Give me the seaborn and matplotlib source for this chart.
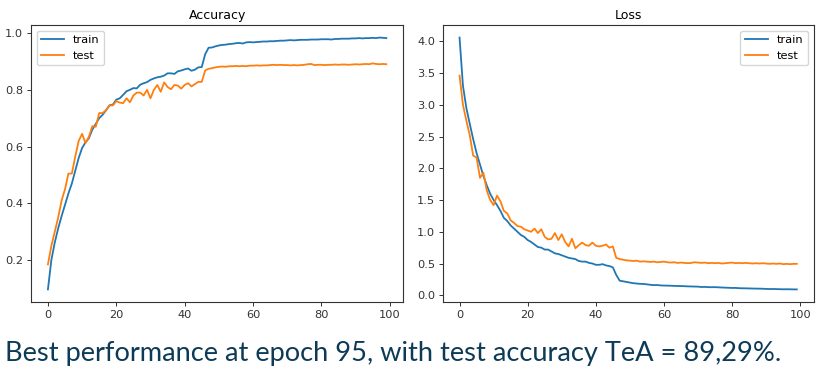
import numpy as np
import pandas as pd
import matplotlib
matplotlib.use("Agg")
import matplotlib.pyplot as plt
import seaborn as sns

epochs = list(range(100))

train_acc = [0.097, 0.200, 0.262, 0.312, 0.355, 0.395, 0.435, 0.470, 0.515, 0.560,
             0.595, 0.615, 0.630, 0.660, 0.680, 0.700, 0.712, 0.728, 0.745, 0.748,
             0.765, 0.770, 0.782, 0.795, 0.800, 0.806, 0.805, 0.818, 0.823, 0.827,
             0.835, 0.840, 0.844, 0.846, 0.850, 0.858, 0.858, 0.856, 0.865, 0.868,
             0.872, 0.875, 0.867, 0.871, 0.879, 0.880, 0.925, 0.948, 0.949, 0.953,
             0.956, 0.958, 0.959, 0.961, 0.962, 0.964, 0.965, 0.963, 0.967, 0.968,
             0.967, 0.968, 0.969, 0.970, 0.970, 0.971, 0.971, 0.972, 0.973, 0.973,
             0.974, 0.975, 0.974, 0.975, 0.976, 0.976, 0.976, 0.977, 0.977, 0.977,
             0.978, 0.978, 0.978, 0.977, 0.979, 0.979, 0.980, 0.980, 0.980, 0.981,
             0.981, 0.982, 0.981, 0.982, 0.982, 0.983, 0.982, 0.984, 0.983, 0.982]

test_acc = [0.185, 0.250, 0.300, 0.350, 0.410, 0.450, 0.505, 0.505, 0.565, 0.620,
            0.645, 0.612, 0.635, 0.672, 0.670, 0.718, 0.718, 0.728, 0.745, 0.745,
            0.760, 0.755, 0.753, 0.770, 0.756, 0.780, 0.790, 0.790, 0.780, 0.800,
            0.770, 0.800, 0.817, 0.793, 0.826, 0.810, 0.802, 0.817, 0.815, 0.804,
            0.817, 0.823, 0.812, 0.820, 0.828, 0.828, 0.868, 0.874, 0.876, 0.879,
            0.881, 0.882, 0.881, 0.883, 0.883, 0.884, 0.883, 0.884, 0.883, 0.885,
            0.885, 0.886, 0.885, 0.886, 0.886, 0.887, 0.888, 0.887, 0.888, 0.887,
            0.887, 0.886, 0.887, 0.886, 0.887, 0.888, 0.890, 0.891, 0.887, 0.888,
            0.888, 0.887, 0.888, 0.888, 0.889, 0.888, 0.889, 0.889, 0.888, 0.889,
            0.890, 0.889, 0.890, 0.891, 0.890, 0.893, 0.891, 0.890, 0.891, 0.890]

train_loss = [4.06, 3.30, 2.95, 2.70, 2.46, 2.24, 2.06, 1.88, 1.73, 1.60,
              1.50, 1.42, 1.33, 1.22, 1.17, 1.10, 1.05, 1.00, 0.95, 0.92,
              0.87, 0.84, 0.80, 0.76, 0.75, 0.72, 0.72, 0.69, 0.66, 0.65,
              0.63, 0.61, 0.59, 0.58, 0.57, 0.54, 0.53, 0.53, 0.51, 0.50,
              0.48, 0.48, 0.49, 0.47, 0.46, 0.44, 0.32, 0.23, 0.22, 0.21,
              0.200, 0.190, 0.185, 0.180, 0.178, 0.172, 0.165, 0.160, 0.162, 0.155,
              0.153, 0.152, 0.150, 0.148, 0.146, 0.145, 0.143, 0.140, 0.139, 0.137,
              0.136, 0.130, 0.132, 0.128, 0.127, 0.128, 0.125, 0.122, 0.120, 0.118,
              0.115, 0.116, 0.112, 0.110, 0.109, 0.108, 0.106, 0.105, 0.104, 0.103,
              0.100, 0.098, 0.099, 0.097, 0.096, 0.094, 0.095, 0.094, 0.093, 0.092]

test_loss = [3.46, 3.00, 2.75, 2.52, 2.20, 2.17, 1.85, 1.93, 1.65, 1.50,
             1.42, 1.57, 1.48, 1.33, 1.29, 1.18, 1.14, 1.09, 1.08, 1.04,
             1.02, 1.00, 1.05, 0.98, 1.04, 0.92, 0.88, 0.89, 0.98, 0.87,
             0.96, 0.84, 0.77, 0.89, 0.74, 0.79, 0.83, 0.79, 0.78, 0.83,
             0.78, 0.77, 0.78, 0.80, 0.75, 0.77, 0.59, 0.57, 0.56, 0.55,
             0.545, 0.540, 0.545, 0.530, 0.535, 0.530, 0.525, 0.530, 0.520, 0.525,
             0.530, 0.520, 0.515, 0.520, 0.510, 0.515, 0.510, 0.505, 0.510, 0.520,
             0.515, 0.510, 0.515, 0.505, 0.510, 0.505, 0.510, 0.500, 0.505, 0.510,
             0.515, 0.505, 0.510, 0.505, 0.510, 0.505, 0.500, 0.505, 0.500, 0.505,
             0.500, 0.495, 0.500, 0.495, 0.500, 0.490, 0.495, 0.490, 0.495, 0.495]

series_labels = ["train", "test"]
titles = ["Accuracy", "Loss"]
caption = "Best performance at epoch 95, with test accuracy TeA = 89,29%."

plt.rcParams["font.family"] = ["DejaVu Sans"]
plt.rcParams["axes.edgecolor"] = "#333333"
plt.rcParams["xtick.color"] = "#333333"
plt.rcParams["ytick.color"] = "#333333"

fig = plt.figure(figsize=(8.29, 3.78), dpi=100)
ax1 = fig.add_axes([0.0374, 0.201, 0.449, 0.733])
ax2 = fig.add_axes([0.534, 0.201, 0.4475, 0.733])

c_train = "#1f77b4"
c_test = "#ff7f0e"
fs = 8.2

for ax, tr, te, title, loc in [(ax1, train_acc, test_acc, titles[0], "upper left"),
                               (ax2, train_loss, test_loss, titles[1], "upper right")]:
    sns.lineplot(x=epochs, y=tr, ax=ax, color=c_train, linewidth=1.3, label=series_labels[0])
    sns.lineplot(x=epochs, y=te, ax=ax, color=c_test, linewidth=1.3, label=series_labels[1])
    ax.set_title(title, fontsize=9, pad=4)
    ax.tick_params(labelsize=fs, length=3, width=0.7, pad=2.5)
    for s in ax.spines.values():
        s.set_linewidth(0.8)
    ax.legend(loc=loc, fontsize=fs, frameon=True, handlelength=2.0)
    ax.set_xticks([0, 20, 40, 60, 80, 100])

ax1.set_yticks([0.2, 0.4, 0.6, 0.8, 1.0])
ax2.set_yticks([0.0, 0.5, 1.0, 1.5, 2.0, 2.5, 3.0, 3.5, 4.0])

fig.text(0.006, 0.066, caption, fontsize=19.6, family=["Lato", "DejaVu Sans"],
         color="#0d3b57", ha="left", va="center")

fig.savefig("out.png", dpi=100, facecolor="white")
